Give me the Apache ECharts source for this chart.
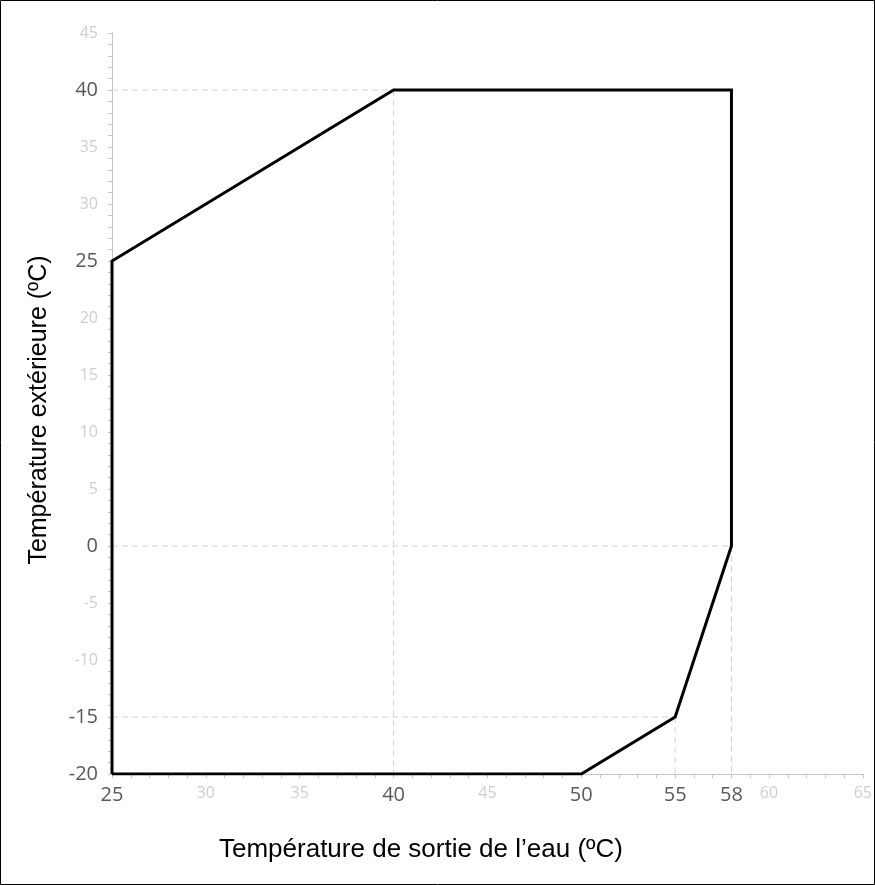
<!DOCTYPE html>
<html><head><meta charset="utf-8">
<script src="https://cdn.jsdelivr.net/npm/echarts@6/dist/echarts.min.js"></script>
<style>html,body{margin:0;padding:0;background:#fff}#c{width:875px;height:885px}</style>
</head><body><div id="c"></div>
<script>
// Envelope polygon (water outlet temp, outdoor temp)
const envelopeX = [25, 25, 40, 58, 58, 55, 50, 25];
const envelopeY = [-20, 25, 40, 40, 0, -15, -20, -20];
// Dashed reference segments
const refSegments = [
  [[25, 40], [40, 40]],
  [[40, 40], [40, -20]],
  [[25, 0], [58, 0]],
  [[58, 0], [58, -20]],
  [[25, -15], [55, -15]],
  [[55, -15], [55, -20]]
];
// Tick labels
const xDarkTicks = [25, 40, 50, 55, 58];
const xLightTicks = [30, 35, 45, 60, 65];
const yDarkTicks = [40, 25, 0, -15, -20];
const yLightTicks = [45, 35, 30, 20, 15, 10, 5, -5, -10];
const xTitle = 'Température de sortie de l’eau (ºC)';
const yTitle = 'Température extérieure (ºC)';

const chart = echarts.init(document.getElementById('c'));
const fmt = (dark, light) => v => {
  const r = Math.round(v);
  if (Math.abs(v - r) > 1e-6) return '';
  if (dark.includes(r)) return '{d|' + r + '}';
  if (light.includes(r)) return '{l|' + r + '}';
  return '';
};
const rich = {
  d: { fontFamily: 'Open Sans', fontSize: 20, color: '#595959' },
  l: { fontFamily: 'Open Sans', fontSize: 16, color: '#cfcfcf' }
};
const series = [];
refSegments.forEach(seg => series.push({
  type: 'line', data: seg, symbol: 'none', silent: true,
  lineStyle: { color: '#d4d4d4', width: 1, type: [6, 4] }, z: 1
}));
series.push({
  type: 'line', data: envelopeX.map((x, i) => [x, envelopeY[i]]),
  symbol: 'none', lineStyle: { color: '#000', width: 3, join: 'miter' }, z: 5
});
chart.setOption({
  animation: false,
  grid: { left: 112, top: 33, right: 10, bottom: 111 },
  graphic: [
    { type: 'rect', shape: { x: 0.5, y: 0.5, width: 874, height: 884 },
      style: { fill: 'none', stroke: '#000', lineWidth: 1 }, z: 100, silent: true },
    { type: 'text', x: 421, y: 850,
      style: { text: xTitle, fontFamily: 'Liberation Sans', fontSize: 26, fill: '#000',
        align: 'center', verticalAlign: 'middle' } },
    { type: 'text', x: 39, y: 410, rotation: Math.PI / 2,
      style: { text: yTitle, fontFamily: 'Liberation Sans', fontSize: 25, fill: '#000',
        align: 'center', verticalAlign: 'middle' } }
  ],
  xAxis: {
    type: 'value', min: 25, max: 65, interval: 1,
    axisLine: { onZero: false, lineStyle: { color: '#c4c4c4', width: 1 } },
    axisTick: { show: true, length: 4, lineStyle: { color: '#c4c4c4' } },
    splitLine: { show: false },
    axisLabel: { margin: 11, fontSize: 20, formatter: fmt(xDarkTicks, xLightTicks), rich: rich }
  },
  yAxis: {
    type: 'value', min: -20, max: 45, interval: 1,
    axisLine: { show: true, onZero: false, lineStyle: { color: '#c4c4c4', width: 1 } },
    axisTick: { show: true, length: 4, lineStyle: { color: '#c4c4c4' } },
    splitLine: { show: false },
    axisLabel: { margin: 14, fontSize: 20, formatter: fmt(yDarkTicks, yLightTicks), rich: rich }
  },
  series: series
});
</script></body></html>
